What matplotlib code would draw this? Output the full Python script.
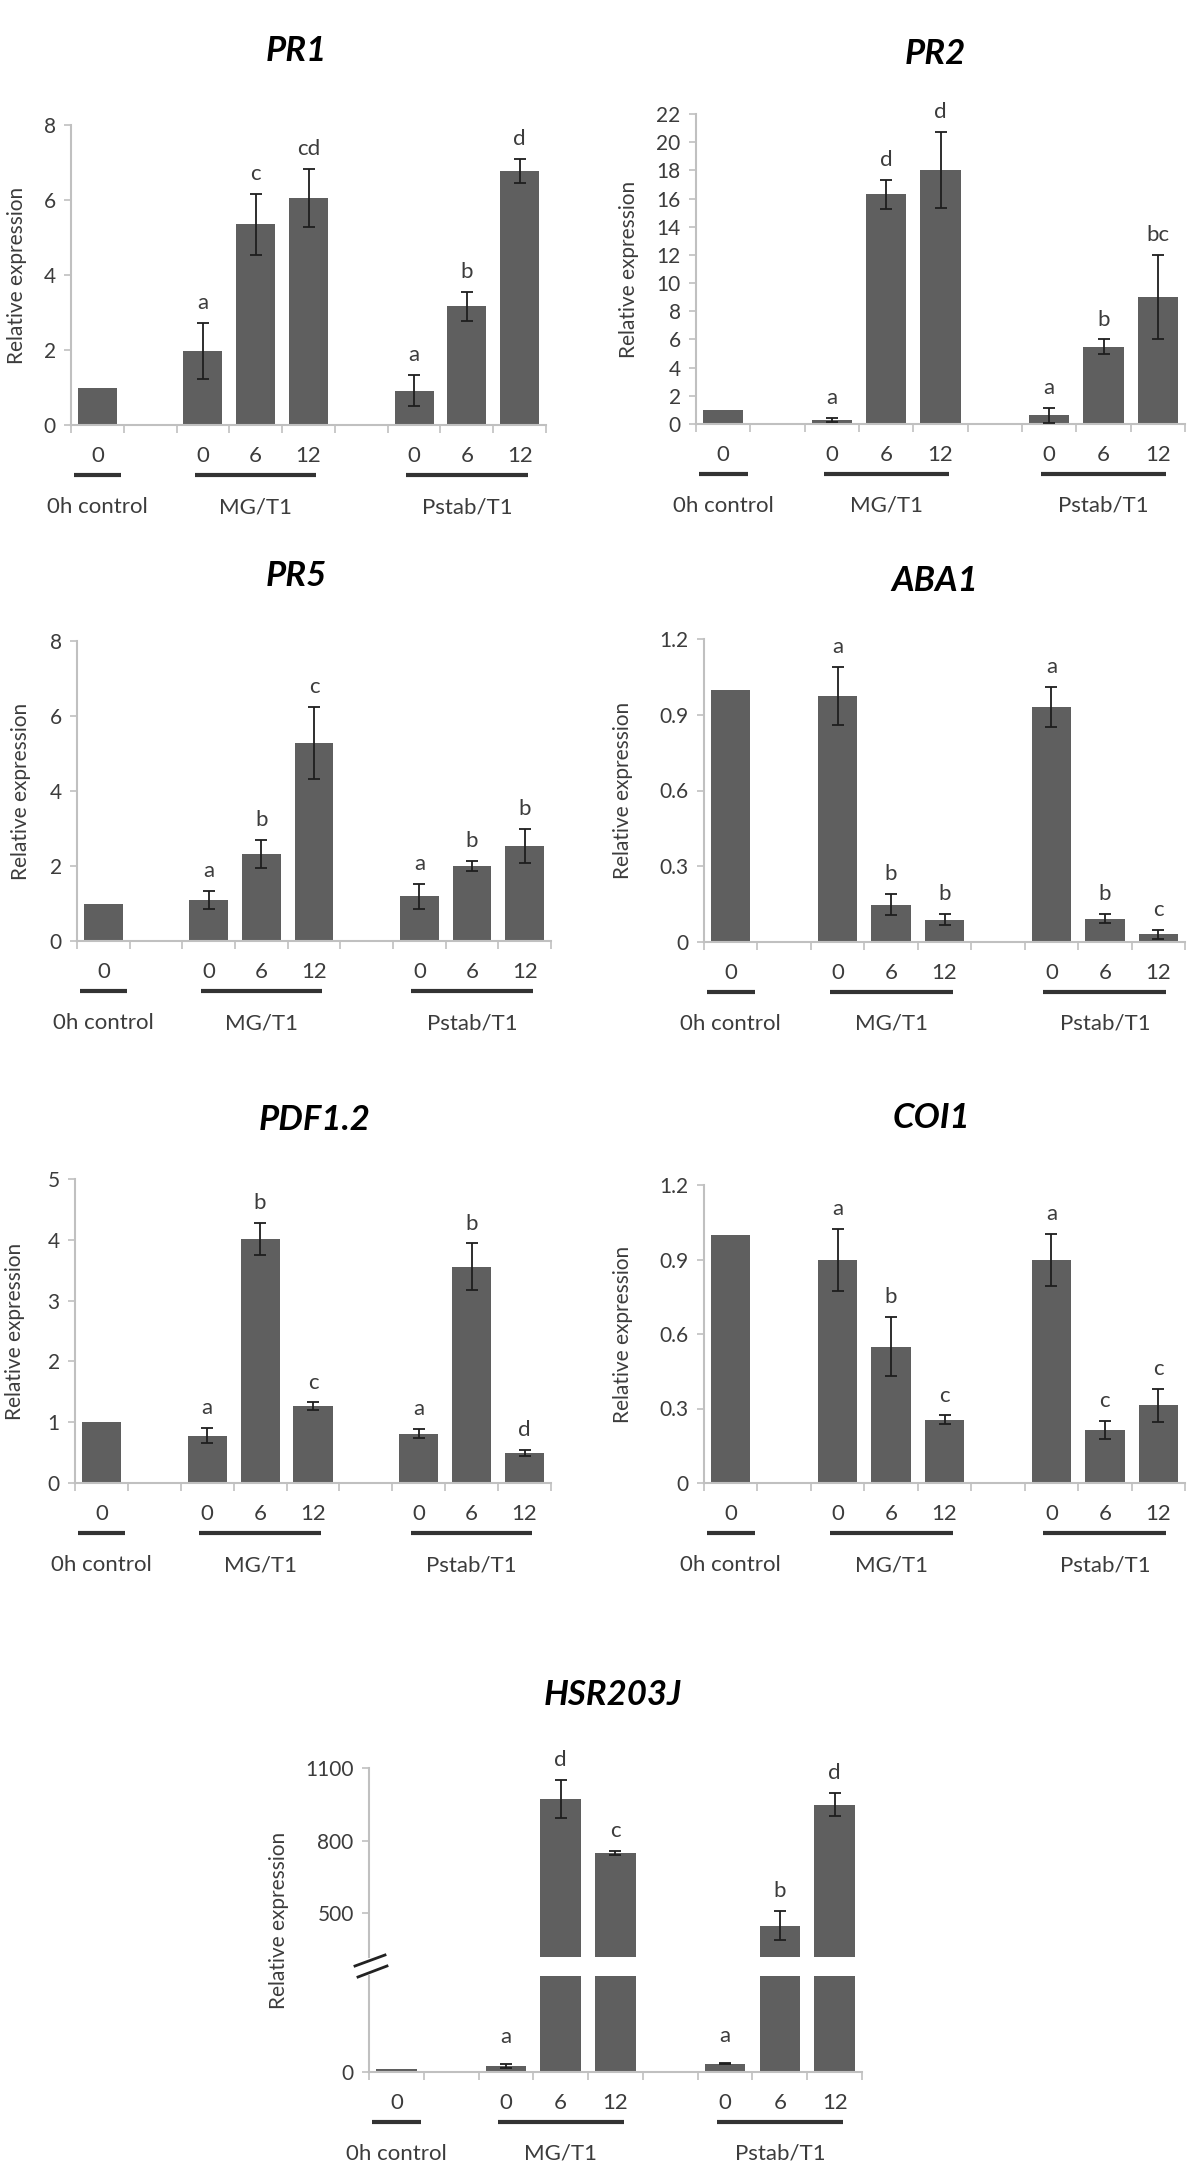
#%% Librerias
import numpy as np
import matplotlib.pyplot as plt
from matplotlib.lines import Line2D
from matplotlib.ticker import FuncFormatter
import matplotlib.transforms as mtransforms

plt.rcParams['font.family'] = ['Lato', 'DejaVu Sans']

#%% Datos
posiciones = [0, 2, 3, 4, 6, 7, 8]
etiquetas_x = ['0', '0', '6', '12', '0', '6', '12']
grupos = ['0h control', 'MG/T1', 'Pstab/T1']
pos_grupos = [0, 3, 7]

PR1_val = [1.0, 1.98, 5.35, 6.05, 0.92, 3.17, 6.78]
PR1_err = [0, 0.74, 0.81, 0.78, 0.41, 0.39, 0.32]
PR1_let = ['', 'a', 'c', 'cd', 'a', 'b', 'd']

PR2_val = [1.0, 0.31, 16.3, 18.0, 0.63, 5.5, 9.0]
PR2_err = [0, 0.15, 1.05, 2.7, 0.53, 0.5, 3.0]
PR2_let = ['', 'a', 'd', 'd', 'a', 'b', 'bc']

PR5_val = [1.0, 1.09, 2.32, 5.28, 1.19, 2.0, 2.54]
PR5_err = [0, 0.24, 0.37, 0.95, 0.33, 0.13, 0.46]
PR5_let = ['', 'a', 'b', 'c', 'a', 'b', 'b']

ABA1_val = [1.0, 0.973, 0.148, 0.088, 0.93, 0.092, 0.03]
ABA1_err = [0, 0.115, 0.043, 0.022, 0.08, 0.018, 0.017]
ABA1_let = ['', 'a', 'b', 'b', 'a', 'b', 'c']

PDF_val = [1.0, 0.78, 4.01, 1.26, 0.81, 3.56, 0.50]
PDF_err = [0, 0.13, 0.26, 0.065, 0.075, 0.38, 0.05]
PDF_let = ['', 'a', 'b', 'c', 'a', 'b', 'd']

COI1_val = [1.0, 0.898, 0.549, 0.255, 0.898, 0.214, 0.313]
COI1_err = [0, 0.125, 0.119, 0.017, 0.104, 0.037, 0.066]
COI1_let = ['', 'a', 'b', 'c', 'a', 'c', 'c']

HSR_val = [1.0, 2.0, 972, 750, 2.8, 450, 948]
HSR_err = [0, 0.8, 80, 8, 0.2, 60, 48]
HSR_let = ['', 'a', 'd', 'c', 'a', 'b', 'd']

#%% Estilo
W, H = 1200, 2180
BAR = '#5f5f5f'
SPINE = '#c0c0c0'
TXT = '#3c3c3c'

fig = plt.figure(figsize=(W/100, H/100), dpi=100)

def caja(l, r, t, b):
    return [l/W, 1 - b/H, (r - l)/W, (b - t)/H]

def ejes(ax, ylim, ticks, fmt=None, abajo=True):
    ax.set_xlim(-0.5, 8.5)
    ax.set_ylim(*ylim)
    for s in ['top', 'right']:
        ax.spines[s].set_visible(False)
    ax.spines['left'].set_color(SPINE)
    ax.spines['left'].set_linewidth(1.5)
    ax.spines['bottom'].set_color(SPINE)
    ax.spines['bottom'].set_linewidth(1.5)
    if not abajo:
        ax.spines['bottom'].set_visible(False)
    ax.set_yticks(ticks)
    if fmt:
        ax.yaxis.set_major_formatter(FuncFormatter(fmt))
    ax.tick_params(axis='y', length=5, width=1.2, color=SPINE, labelsize=15,
                   labelcolor=TXT, pad=6)
    if abajo:
        ax.set_xticks(np.arange(-0.5, 9, 1))
        ax.set_xticklabels([])
        ax.tick_params(axis='x', length=6, width=1.2, color=SPINE)
    else:
        ax.set_xticks([])

def barras(ax, val, err, let, off=10):
    ax.bar(posiciones, val, width=0.74, color=BAR, zorder=2)
    xe = [p for p, e in zip(posiciones, err) if e > 0]
    ve = [v for v, e in zip(val, err) if e > 0]
    ee = [e for e in err if e > 0]
    ax.errorbar(xe, ve, yerr=ee, fmt='none', ecolor='#1e1e1e', elinewidth=1.3,
                capsize=4, capthick=1.3, zorder=3)
    for p, v, e, l in zip(posiciones, val, err, let):
        if l:
            ax.annotate(l, xy=(p, v + e), xytext=(0, off), textcoords='offset points',
                        ha='center', va='baseline', fontsize=16, color=TXT)

def debajo(ax, h_px):
    tr = mtransforms.blended_transform_factory(ax.transData, ax.transAxes)
    for p, t in zip(posiciones, etiquetas_x):
        ax.text(p, -31/h_px, t, transform=tr, ha='center', va='center',
                fontsize=16, color=TXT)
    for a, b in [(-0.45, 0.45), (1.85, 4.15), (5.85, 8.15)]:
        ax.plot([a, b], [-50/h_px, -50/h_px], transform=tr, color='#333333',
                lw=3, clip_on=False, solid_capstyle='butt')
    for p, g in zip(pos_grupos, grupos):
        ax.text(p, -82/h_px, g, transform=tr, ha='center', va='center',
                fontsize=16, color=TXT)

def titulo(x, y, t):
    fig.text(x/W, 1 - y/H, t, ha='center', va='center', fontsize=25,
             fontweight='bold', fontstyle='italic', color='black')

def ylab(x, y):
    fig.text(x/W, 1 - y/H, 'Relative expression', rotation=90, ha='center',
             va='center', fontsize=15, color=TXT)

fmt_dec = lambda v, p: f'{v:g}'

paneles = [
    # (l, r, t, b), ylim, ticks, fmt, val, err, let, titulo, titulo xy, ylabel x
    ((71, 546, 125, 425), (0, 8), np.arange(0, 9, 2), None,
     PR1_val, PR1_err, PR1_let, 'PR1', (296, 51), 17),
    ((696, 1185, 114, 424), (0, 22), np.arange(0, 23, 2), None,
     PR2_val, PR2_err, PR2_let, 'PR2', (935, 54), 629),
    ((77, 551, 641, 941), (0, 8), np.arange(0, 9, 2), None,
     PR5_val, PR5_err, PR5_let, 'PR5', (296, 576), 21),
    ((704, 1185, 639, 942), (0, 1.2), np.arange(0, 1.21, 0.3), fmt_dec,
     ABA1_val, ABA1_err, ABA1_let, 'ABA1', (935, 581), 623),
    ((75, 551, 1179, 1483), (0, 5), np.arange(0, 6, 1), None,
     PDF_val, PDF_err, PDF_let, 'PDF1.2', (315, 1120), 15),
    ((704, 1185, 1185, 1483), (0, 1.2), np.arange(0, 1.21, 0.3), fmt_dec,
     COI1_val, COI1_err, COI1_let, 'COI1', (931, 1118), 623),
]

for rect, ylim, ticks, fmt, val, err, let, tit, txy, xl in paneles:
    l, r, t, b = rect
    ax = fig.add_axes(caja(*rect))
    ejes(ax, ylim, ticks, fmt)
    barras(ax, val, err, let)
    debajo(ax, b - t)
    titulo(*txy, tit)
    ylab(xl, (t + b)/2)

#%% HSR203J con eje cortado
ax_up = fig.add_axes(caja(369, 862, 1768, 1957))
ejes(ax_up, (320, 1100), [500, 800, 1100], abajo=False)
barras(ax_up, HSR_val, HSR_err, ['', '', 'd', 'c', '', 'b', 'd'])

ax_lo = fig.add_axes(caja(369, 862, 1976, 2072))
ejes(ax_lo, (0, 32), [0])
barras(ax_lo, HSR_val, HSR_err, ['', 'a', '', '', 'a', '', ''], off=15)
debajo(ax_lo, 2072 - 1976)
titulo(613, 1695, 'HSR203J')
ylab(279, 1920)

for (x0, y0, x1, y1) in [(355, 1966, 385, 1955), (358, 1977, 387, 1966)]:
    fig.add_artist(Line2D([x0/W, x1/W], [1 - y0/H, 1 - y1/H], transform=fig.transFigure,
                          color='#222222', lw=2))

plt.savefig('out.png', dpi=100)
